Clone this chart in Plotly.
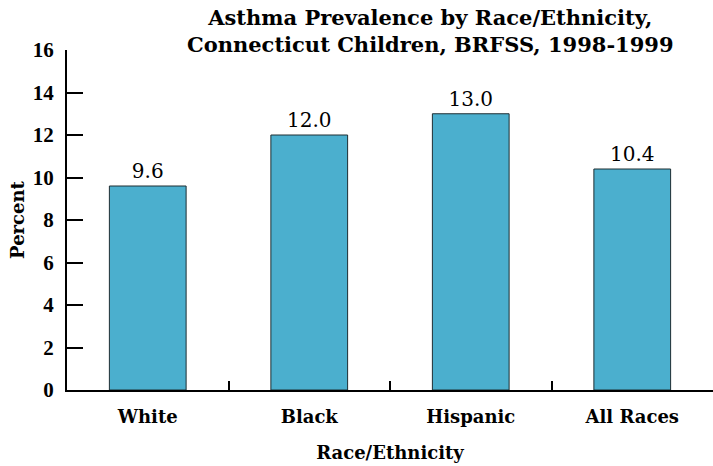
import plotly.graph_objects as go

# Asthma prevalence among Connecticut children by race/ethnicity
categories = ["White", "Black", "Hispanic", "All Races"]
prevalence = [9.6, 12.0, 13.0, 10.4]
y_ticks = [0, 2, 4, 6, 8, 10, 12, 14, 16]

SERIF = "DejaVu Serif"
NUM = "Liberation Serif"

fig = go.Figure(
    go.Bar(
        x=categories,
        y=prevalence,
        width=0.475,
        marker=dict(color="#4BAFCE", line=dict(color="#1E2E33", width=1)),
        text=[f"{v:.1f}" for v in prevalence],
        textposition="outside",
        textfont=dict(family=SERIF, size=20, color="black"),
        cliponaxis=False,
    )
)

fig.update_layout(
    width=713,
    height=466,
    margin=dict(l=67, r=0, t=50, b=76),
    paper_bgcolor="white",
    plot_bgcolor="white",
    showlegend=False,
    annotations=[
        dict(
            text="<b>Asthma Prevalence by Race/Ethnicity,<br>Connecticut Children, BRFSS, 1998-1999</b>",
            xref="paper",
            yref="paper",
            x=(430 - 67) / 646,
            y=(390 - 31) / 340,
            xanchor="center",
            yanchor="middle",
            showarrow=False,
            align="center",
            font=dict(family=SERIF, size=21, color="black"),
        )
    ],
)

fig.update_xaxes(
    showline=True,
    linecolor="black",
    linewidth=2,
    ticks="inside",
    tickson="boundaries",
    ticklen=9,
    tickwidth=2,
    tickcolor="black",
    showgrid=False,
    tickfont=dict(family=SERIF, size=18, color="black", weight="bold"),
    title=dict(text="<b>Race/Ethnicity</b>", font=dict(family=SERIF, size=18, color="black"), standoff=21),
    ticklabelstandoff=9,
)

fig.update_yaxes(
    range=[0, 16],
    tickvals=y_ticks,
    showline=True,
    linecolor="black",
    linewidth=2,
    ticks="inside",
    ticklen=16,
    tickwidth=2,
    tickcolor="black",
    showgrid=False,
    zeroline=False,
    tickfont=dict(family=NUM, size=21, color="black", weight="bold"),
    title=dict(text="<b>Percent</b>", font=dict(family=SERIF, size=18, color="black"), standoff=3),
    ticklabelstandoff=7,
)

fig.write_html("out.html")
